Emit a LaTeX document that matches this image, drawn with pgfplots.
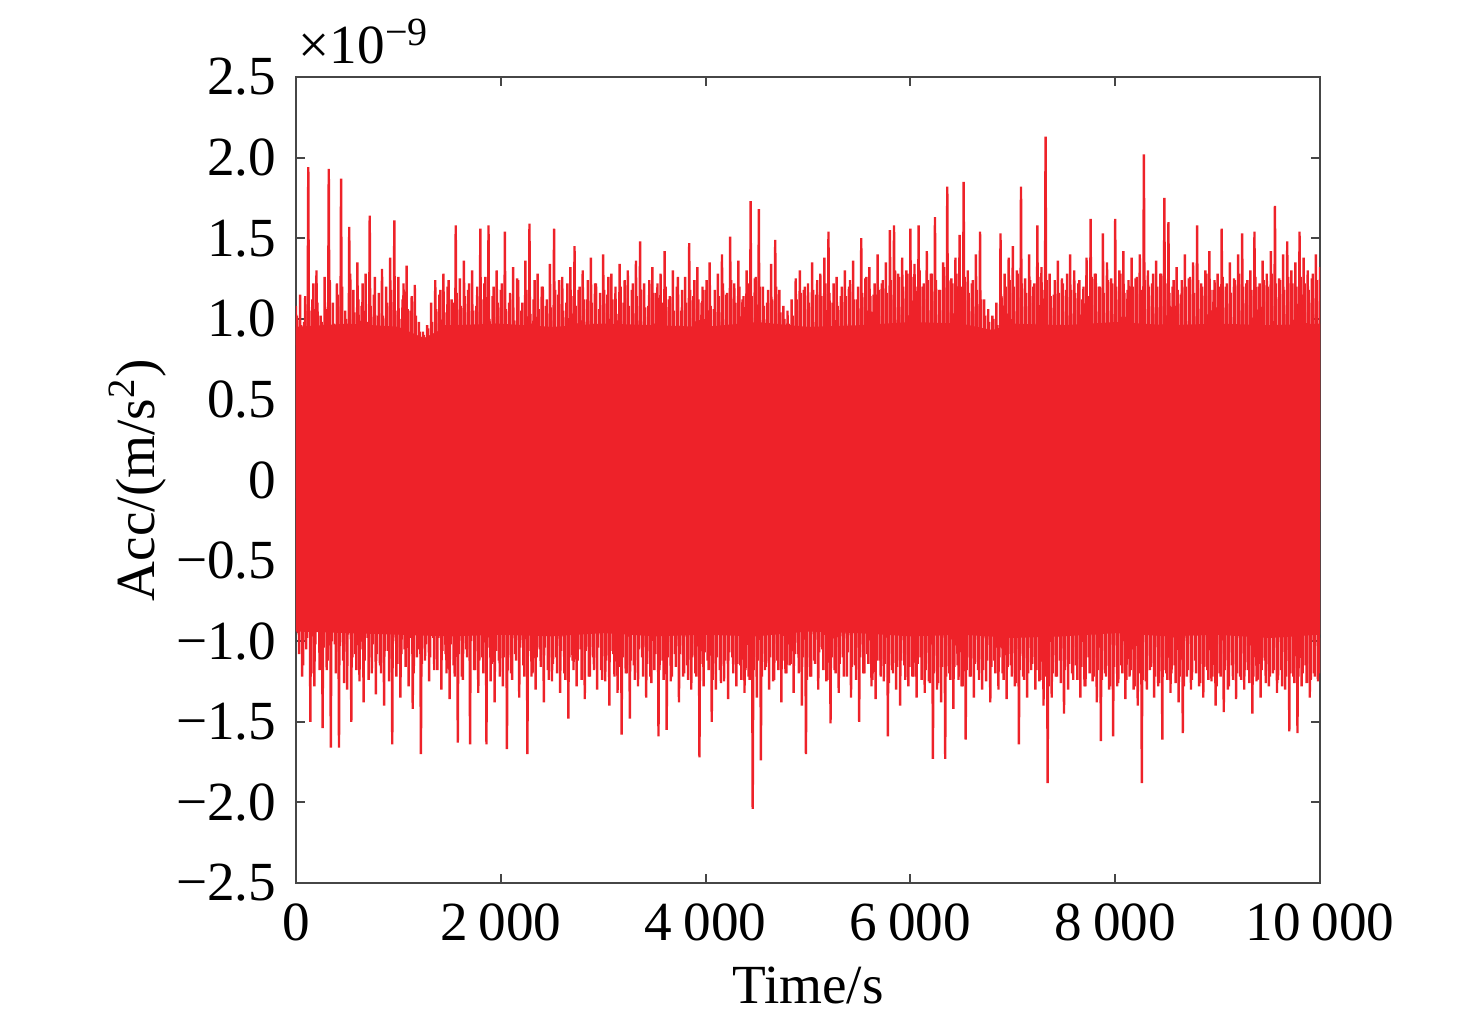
\documentclass[border=0pt]{standalone}
\usepackage{pgfplots}
\pgfplotsset{compat=1.18}
\usepackage{fontspec}
\setmainfont{Liberation Serif}
\definecolor{accred}{RGB}{238,34,41}
\definecolor{axisgray}{RGB}{70,70,70}
\begin{document}
\begin{tikzpicture}
\begin{axis}[
  name=ax,
  scale only axis,
  width=256pt, height=201.5pt,
  xmin=0, xmax=10000, ymin=-2.5, ymax=2.5,
  xtick={0,2000,4000,6000,8000,10000},
  xticklabels={0,2\hspace{0.2em}000,4\hspace{0.2em}000,6\hspace{0.2em}000,8\hspace{0.2em}000,10\hspace{0.2em}000},
  ytick={-2.5,-2,-1.5,-1,-0.5,0,0.5,1,1.5,2,2.5},
  yticklabels={−2.5,−2.0,−1.5,−1.0,−0.5,0,0.5,1.0,1.5,2.0,2.5},
  scaled ticks=false,
  tick align=inside, tick pos=both,
  major tick length=2.3pt,
  axis line style={draw=axisgray, line width=0.5pt},
  tick style={draw=axisgray, line width=0.5pt},
  font=\fontsize{13.8}{16}\selectfont,
  xticklabel style={yshift=-1.6pt},
  yticklabel style={xshift=-1.4pt},
  xlabel={Time/s},
  ylabel={Acc/(m/s\textsuperscript{2})},
  every axis x label/.style={at={(axis description cs:0.5,-0.1489)}, anchor=base},
  every axis y label/.style={at={(axis description cs:-0.1377,0.5)}, rotate=90, anchor=base},
]
% dense core of the signal
\addplot[draw=none, fill=accred] coordinates {
(0,0.95) (500,0.97) (1000,0.95) (1250,0.88) (1500,0.96) (2000,0.97) (2500,0.95) (3000,0.97) (3500,0.96) (4000,0.95) (4500,0.98) (5000,0.95) (5500,0.96) (6000,0.98) (6500,0.97) (6800,0.93) (7000,0.97) (7500,0.96) (8000,0.98) (8500,0.96) (9000,0.97) (9500,0.96) (10000,0.97)
(10000,-0.96) (9500,-0.98) (9000,-0.96) (8500,-0.97) (8000,-0.95) (7500,-0.97) (7000,-0.98) (6500,-0.96) (6000,-0.97) (5500,-0.95) (5000,-0.94) (4500,-0.97) (4000,-0.96) (3500,-0.97) (3000,-0.95) (2500,-0.97) (2000,-0.96) (1500,-0.97) (1000,-0.96) (500,-0.95) (0,-0.94)
} -- cycle;
% sampled signal, even samples
\addplot[accred, line width=0.6pt, line join=bevel, no markers] coordinates {
(0,1.08) (20,-0.95) (40,1.15) (60,-1.22) (80,0.98) (100,-1.05) (120,1.94) (140,-1.50) (160,1.12) (180,-1.28)
(200,1.30) (220,-0.92) (240,1.02) (260,-1.54) (280,1.26) (300,-1.18) (320,1.93) (340,-1.66) (360,1.10) (380,-1.02)
(400,1.22) (420,-1.66) (440,1.87) (460,-1.12) (480,1.05) (500,-1.30) (520,1.57) (540,-1.50) (560,1.18) (580,-1.08)
(600,1.35) (620,-1.25) (640,1.08) (660,-1.38) (680,1.28) (700,-0.98) (720,1.64) (740,-1.20) (760,1.15) (780,-1.33)
(800,1.02) (820,-1.15) (840,1.31) (860,-1.40) (880,1.20) (900,-1.06) (920,1.38) (940,-1.64) (960,1.61) (980,-1.22)
(1000,1.26) (1020,-1.35) (1040,1.12) (1060,-1.05) (1080,1.33) (1100,-1.28) (1120,1.05) (1140,-1.42) (1160,1.21) (1180,-1.10)
(1200,0.98) (1220,-1.70) (1240,0.92) (1260,-1.12) (1280,0.96) (1300,-1.25) (1320,1.10) (1340,-0.98) (1360,1.24) (1380,-1.18)
(1400,1.15) (1420,-1.30) (1440,1.28) (1460,-1.08) (1480,1.20) (1500,-1.36) (1520,1.12) (1540,-1.15) (1560,1.58) (1580,-1.63)
(1600,1.25) (1620,-1.22) (1640,1.36) (1660,-1.05) (1680,1.18) (1700,-1.64) (1720,1.30) (1740,-1.18) (1760,1.08) (1780,-1.32)
(1800,1.56) (1820,-1.10) (1840,1.22) (1860,-1.64) (1880,1.58) (1900,-1.25) (1920,1.14) (1940,-1.38) (1960,1.30) (1980,-1.12)
(2000,1.18) (2020,-1.28) (2040,1.54) (2060,-1.67) (2080,1.10) (2100,-1.20) (2120,1.32) (2140,-1.08) (2160,1.25) (2180,-1.35)
(2200,1.05) (2220,-1.15) (2240,1.36) (2260,-1.70) (2280,1.59) (2300,-1.22) (2320,1.12) (2340,-1.30) (2360,1.28) (2380,-1.05)
(2400,1.20) (2420,-1.38) (2440,1.08) (2460,-1.18) (2480,1.34) (2500,-1.25) (2520,1.56) (2540,-1.10) (2560,1.15) (2580,-1.32)
(2600,1.26) (2620,-1.20) (2640,1.10) (2660,-1.48) (2680,1.32) (2700,-1.12) (2720,1.45) (2740,-1.28) (2760,1.18) (2780,-1.05)
(2800,1.30) (2820,-1.36) (2840,1.12) (2860,-1.22) (2880,1.38) (2900,-1.10) (2920,1.22) (2940,-1.30) (2960,1.06) (2980,-1.18)
(3000,1.40) (3020,-1.25) (3040,1.15) (3060,-1.40) (3080,1.28) (3100,-1.08) (3120,1.20) (3140,-1.32) (3160,1.34) (3180,-1.58)
(3200,1.10) (3220,-1.20) (3240,1.30) (3260,-1.48) (3280,1.18) (3300,-1.15) (3320,1.36) (3340,-1.28) (3360,1.48) (3380,-1.10)
(3400,1.22) (3420,-1.35) (3440,1.08) (3460,-1.22) (3480,1.32) (3500,-1.18) (3520,1.16) (3540,-1.59) (3560,1.28) (3580,-1.12)
(3600,1.42) (3620,-1.55) (3640,1.12) (3660,-1.25) (3680,1.30) (3700,-1.08) (3720,1.20) (3740,-1.38) (3760,1.05) (3780,-1.22)
(3800,1.26) (3820,-1.15) (3840,1.47) (3860,-1.30) (3880,1.14) (3900,-1.20) (3920,1.32) (3940,-1.72) (3960,1.10) (3980,-1.28)
(4000,1.18) (4020,-1.12) (4040,1.35) (4060,-1.50) (4080,1.06) (4100,-1.30) (4120,1.28) (4140,-1.18) (4160,1.40) (4180,-1.25)
(4200,1.15) (4220,-1.36) (4240,1.51) (4260,-1.10) (4280,1.22) (4300,-1.28) (4320,1.36) (4340,-1.15) (4360,1.12) (4380,-1.32)
(4400,1.30) (4420,-1.22) (4440,1.73) (4460,-2.04) (4480,1.25) (4500,-1.35) (4520,1.68) (4540,-1.74) (4560,1.20) (4580,-1.18)
(4600,1.10) (4620,-1.30) (4640,1.34) (4660,-1.25) (4680,1.49) (4700,-1.12) (4720,1.18) (4740,-1.38) (4760,1.08) (4780,-1.20)
(4800,1.05) (4820,-1.15) (4840,1.12) (4860,-1.32) (4880,1.25) (4900,-1.08) (4920,1.30) (4940,-1.40) (4960,1.18) (4980,-1.70)
(5000,1.22) (5020,-1.22) (5040,1.35) (5060,-1.12) (5080,1.15) (5100,-1.30) (5120,1.28) (5140,-1.05) (5160,1.38) (5180,-1.25)
(5200,1.54) (5220,-1.51) (5240,1.10) (5260,-1.18) (5280,1.26) (5300,-1.32) (5320,1.14) (5340,-1.10) (5360,1.30) (5380,-1.22)
(5400,1.20) (5420,-1.35) (5440,1.36) (5460,-1.15) (5480,1.12) (5500,-1.50) (5520,1.50) (5540,-1.20) (5560,1.25) (5580,-1.08)
(5600,1.32) (5620,-1.28) (5640,1.15) (5660,-1.36) (5680,1.40) (5700,-1.12) (5720,1.22) (5740,-1.25) (5760,1.35) (5780,-1.59)
(5800,1.55) (5820,-1.18) (5840,1.58) (5860,-1.30) (5880,1.28) (5900,-1.40) (5920,1.38) (5940,-1.15) (5960,1.30) (5980,-1.28)
(6000,1.56) (6020,-1.22) (6040,1.34) (6060,-1.35) (6080,1.58) (6100,-1.10) (6120,1.20) (6140,-1.32) (6160,1.42) (6180,-1.25)
(6200,1.28) (6220,-1.73) (6240,1.63) (6260,-1.30) (6280,1.18) (6300,-1.38) (6320,1.35) (6340,-1.73) (6360,1.82) (6380,-1.20)
(6400,1.25) (6420,-1.42) (6440,1.38) (6460,-1.15) (6480,1.52) (6500,-1.28) (6520,1.85) (6540,-1.61) (6560,1.30) (6580,-1.22)
(6600,1.22) (6620,-1.35) (6640,1.40) (6660,-1.18) (6680,1.54) (6700,-1.30) (6720,1.12) (6740,-1.25) (6760,1.06) (6780,-1.38)
(6800,1.02) (6820,-1.12) (6840,1.10) (6860,-1.30) (6880,1.53) (6900,-1.20) (6920,1.28) (6940,-1.36) (6960,1.38) (6980,-1.15)
(7000,1.45) (7020,-1.28) (7040,1.30) (7060,-1.64) (7080,1.82) (7100,-1.22) (7120,1.25) (7140,-1.35) (7160,1.40) (7180,-1.18)
(7200,1.20) (7220,-1.30) (7240,1.58) (7260,-1.25) (7280,1.32) (7300,-1.40) (7320,2.13) (7340,-1.88) (7360,1.28) (7380,-1.35)
(7400,1.15) (7420,-1.22) (7440,1.36) (7460,-1.12) (7480,1.25) (7500,-1.45) (7520,1.18) (7540,-1.30) (7560,1.40) (7580,-1.20)
(7600,1.30) (7620,-1.15) (7640,1.22) (7660,-1.35) (7680,1.12) (7700,-1.28) (7720,1.38) (7740,-1.10) (7760,1.62) (7780,-1.25)
(7800,1.28) (7820,-1.38) (7840,1.20) (7860,-1.62) (7880,1.53) (7900,-1.20) (7920,1.35) (7940,-1.30) (7960,1.25) (7980,-1.59)
(8000,1.62) (8020,-1.28) (8040,1.30) (8060,-1.15) (8080,1.42) (8100,-1.36) (8120,1.18) (8140,-1.22) (8160,1.38) (8180,-1.30)
(8200,1.25) (8220,-1.40) (8240,1.40) (8260,-1.88) (8280,2.02) (8300,-1.25) (8320,1.30) (8340,-1.18) (8360,1.22) (8380,-1.35)
(8400,1.36) (8420,-1.28) (8440,1.28) (8460,-1.61) (8480,1.75) (8500,-1.20) (8520,1.60) (8540,-1.32) (8560,1.20) (8580,-1.15)
(8600,1.32) (8620,-1.38) (8640,1.15) (8660,-1.57) (8680,1.40) (8700,-1.22) (8720,1.25) (8740,-1.30) (8760,1.35) (8780,-1.12)
(8800,1.58) (8820,-1.28) (8840,1.22) (8860,-1.35) (8880,1.30) (8900,-1.18) (8920,1.42) (8940,-1.25) (8960,1.18) (8980,-1.40)
(9000,1.28) (9020,-1.20) (9040,1.56) (9060,-1.44) (9080,1.20) (9100,-1.30) (9120,1.35) (9140,-1.15) (9160,1.25) (9180,-1.36)
(9200,1.40) (9220,-1.22) (9240,1.53) (9260,-1.30) (9280,1.22) (9300,-1.18) (9320,1.30) (9340,-1.45) (9360,1.54) (9380,-1.25)
(9400,1.20) (9420,-1.35) (9440,1.36) (9460,-1.12) (9480,1.28) (9500,-1.28) (9520,1.42) (9540,-1.20) (9560,1.70) (9580,-1.32)
(9600,1.25) (9620,-1.18) (9640,1.40) (9660,-1.30) (9680,1.48) (9700,-1.56) (9720,1.30) (9740,-1.22) (9760,1.35) (9780,-1.57)
(9800,1.54) (9820,-1.28) (9840,1.38) (9860,-1.15) (9880,1.30) (9900,-1.35) (9920,1.25) (9940,-1.20) (9960,1.40) (9980,-1.25)
(10000,1.32)
};
% sampled signal, odd samples
\addplot[accred, line width=0.6pt, line join=bevel, no markers] coordinates {
(10,1.02) (30,-1.08) (50,0.96) (70,-1.15) (90,1.14) (110,-0.98) (130,1.05) (150,-1.20) (170,1.22) (190,-1.02)
(210,1.10) (230,-1.18) (250,0.98) (270,-1.04) (290,1.06) (310,-1.12) (330,1.24) (350,-1.00) (370,0.97) (390,-1.20)
(410,1.15) (430,-1.03) (450,1.20) (470,-1.26) (490,1.00) (510,-0.96) (530,1.28) (550,-1.10) (570,1.04) (590,-1.18)
(610,1.12) (630,-1.05) (650,1.22) (670,-1.12) (690,0.98) (710,-1.24) (730,1.08) (750,-1.02) (770,1.26) (790,-1.08)
(810,1.16) (830,-1.20) (850,1.02) (870,-1.06) (890,1.10) (910,-1.25) (930,1.18) (950,-1.00) (970,1.05) (990,-1.14)
(1010,1.00) (1030,-1.08) (1050,1.22) (1070,-1.16) (1090,1.06) (1110,-0.98) (1130,1.14) (1150,-1.20) (1170,1.02) (1190,-1.05)
(1210,0.92) (1230,-1.14) (1250,0.90) (1270,-1.02) (1290,0.94) (1310,-1.10) (1330,0.98) (1350,-1.18) (1370,1.06) (1390,-0.98)
(1410,1.18) (1430,-1.06) (1450,1.04) (1470,-1.20) (1490,1.24) (1510,-1.02) (1530,1.10) (1550,-1.22) (1570,1.16) (1590,-1.08)
(1610,1.08) (1630,-1.24) (1650,1.14) (1670,-1.10) (1690,1.22) (1710,-1.00) (1730,1.05) (1750,-1.18) (1770,1.20) (1790,-1.12)
(1810,1.12) (1830,-1.20) (1850,1.26) (1870,-1.04) (1890,1.00) (1910,-1.14) (1930,1.20) (1950,-1.06) (1970,1.10) (1990,-1.22)
(2010,1.22) (2030,-1.10) (2050,1.06) (2070,-1.18) (2090,1.16) (2110,-1.24) (2130,0.99) (2150,-1.12) (2170,1.24) (2190,-1.04)
(2210,1.10) (2230,-1.22) (2250,1.18) (2270,-1.06) (2290,1.03) (2310,-1.20) (2330,1.24) (2350,-1.10) (2370,1.06) (2390,-1.16)
(2410,1.20) (2430,-1.04) (2450,1.12) (2470,-1.24) (2490,1.07) (2510,-1.14) (2530,1.18) (2550,-1.20) (2570,1.24) (2590,-1.06)
(2610,1.05) (2630,-1.24) (2650,1.22) (2670,-1.10) (2690,1.14) (2710,-1.18) (2730,1.08) (2750,-1.12) (2770,1.20) (2790,-1.24)
(2810,1.12) (2830,-1.06) (2850,1.24) (2870,-1.22) (2890,1.10) (2910,-1.18) (2930,1.22) (2950,-1.04) (2970,1.16) (2990,-1.24)
(3010,1.18) (3030,-1.12) (3050,1.26) (3070,-1.06) (3090,1.12) (3110,-1.22) (3130,1.03) (3150,-1.16) (3170,1.20) (3190,-1.10)
(3210,1.24) (3230,-1.20) (3250,1.08) (3270,-1.12) (3290,1.22) (3310,-1.24) (3330,1.14) (3350,-1.05) (3370,1.18) (3390,-1.22)
(3410,1.07) (3430,-1.14) (3450,1.24) (3470,-1.26) (3490,1.16) (3510,-1.08) (3530,1.22) (3550,-1.18) (3570,1.10) (3590,-1.24)
(3610,1.20) (3630,-1.10) (3650,1.14) (3670,-1.22) (3690,1.05) (3710,-1.16) (3730,1.26) (3750,-1.08) (3770,1.18) (3790,-1.20)
(3810,1.10) (3830,-1.24) (3850,1.18) (3870,-1.10) (3890,1.24) (3910,-1.22) (3930,1.12) (3950,-1.14) (3970,1.20) (3990,-1.07)
(4010,1.24) (4030,-1.18) (4050,1.08) (4070,-1.24) (4090,1.18) (4110,-1.10) (4130,1.14) (4150,-1.26) (4170,1.22) (4190,-1.12)
(4210,1.16) (4230,-1.07) (4250,1.24) (4270,-1.20) (4290,1.10) (4310,-1.14) (4330,1.20) (4350,-1.24) (4370,1.14) (4390,-1.18)
(4410,1.22) (4430,-1.24) (4450,1.14) (4470,-1.18) (4490,1.26) (4510,-1.12) (4530,1.20) (4550,-1.22) (4570,1.08) (4590,-1.16)
(4610,1.18) (4630,-1.10) (4650,1.12) (4670,-1.24) (4690,1.20) (4710,-1.18) (4730,1.04) (4750,-1.12) (4770,1.00) (4790,-1.20)
(4810,0.97) (4830,-1.14) (4850,1.02) (4870,-1.08) (4890,1.12) (4910,-1.20) (4930,1.16) (4950,-1.10) (4970,1.20) (4990,-1.24)
(5010,1.10) (5030,-1.22) (5050,1.18) (5070,-1.14) (5090,1.24) (5110,-1.07) (5130,1.14) (5150,-1.18) (5170,1.22) (5190,-1.24)
(5210,1.16) (5230,-1.10) (5250,1.22) (5270,-1.20) (5290,1.08) (5310,-1.14) (5330,1.20) (5350,-1.22) (5370,1.14) (5390,-1.07)
(5410,1.24) (5430,-1.16) (5450,1.12) (5470,-1.24) (5490,1.20) (5510,-1.10) (5530,1.16) (5550,-1.20) (5570,1.26) (5590,-1.14)
(5610,1.14) (5630,-1.24) (5650,1.22) (5670,-1.12) (5690,1.18) (5710,-1.22) (5730,1.24) (5750,-1.14) (5770,1.16) (5790,-1.26)
(5810,1.24) (5830,-1.20) (5850,1.30) (5870,-1.16) (5890,1.26) (5910,-1.12) (5930,1.20) (5950,-1.24) (5970,1.28) (5990,-1.16)
(6010,1.26) (6030,-1.22) (6050,1.20) (6070,-1.14) (6090,1.30) (6110,-1.24) (6130,1.22) (6150,-1.18) (6170,1.24) (6190,-1.26)
(6210,1.28) (6230,-1.20) (6250,1.24) (6270,-1.26) (6290,1.18) (6310,-1.16) (6330,1.32) (6350,-1.22) (6370,1.24) (6390,-1.24)
(6410,1.22) (6430,-1.16) (6450,1.28) (6470,-1.24) (6490,1.20) (6510,-1.28) (6530,1.26) (6550,-1.18) (6570,1.16) (6590,-1.22)
(6610,1.24) (6630,-1.14) (6650,1.18) (6670,-1.24) (6690,1.12) (6710,-1.18) (6730,1.02) (6750,-1.12) (6770,0.98) (6790,-1.16)
(6810,1.00) (6830,-1.20) (6850,0.96) (6870,-1.10) (6890,1.14) (6910,-1.24) (6930,1.20) (6950,-1.16) (6970,1.24) (6990,-1.22)
(7010,1.20) (7030,-1.26) (7050,1.28) (7070,-1.18) (7090,1.22) (7110,-1.24) (7130,1.16) (7150,-1.20) (7170,1.24) (7190,-1.14)
(7210,1.22) (7230,-1.18) (7250,1.26) (7270,-1.24) (7290,1.18) (7310,-1.22) (7330,1.24) (7350,-1.28) (7370,1.14) (7390,-1.20)
(7410,1.24) (7430,-1.22) (7450,1.16) (7470,-1.26) (7490,1.22) (7510,-1.18) (7530,1.28) (7550,-1.14) (7570,1.18) (7590,-1.24)
(7610,1.16) (7630,-1.24) (7650,1.24) (7670,-1.16) (7690,1.20) (7710,-1.28) (7730,1.14) (7750,-1.20) (7770,1.26) (7790,-1.22)
(7810,1.28) (7830,-1.18) (7850,1.20) (7870,-1.24) (7890,1.16) (7910,-1.22) (7930,1.24) (7950,-1.28) (7970,1.22) (7990,-1.16)
(8010,1.20) (8030,-1.26) (8050,1.28) (8070,-1.20) (8090,1.16) (8110,-1.24) (8130,1.24) (8150,-1.18) (8170,1.20) (8190,-1.28)
(8210,1.26) (8230,-1.20) (8250,1.18) (8270,-1.24) (8290,1.24) (8310,-1.30) (8330,1.20) (8350,-1.16) (8370,1.28) (8390,-1.22)
(8410,1.20) (8430,-1.26) (8450,1.28) (8470,-1.18) (8490,1.22) (8510,-1.24) (8530,1.16) (8550,-1.20) (8570,1.24) (8590,-1.26)
(8610,1.18) (8630,-1.22) (8650,1.24) (8670,-1.28) (8690,1.20) (8710,-1.18) (8730,1.26) (8750,-1.24) (8770,1.16) (8790,-1.20)
(8810,1.24) (8830,-1.26) (8850,1.20) (8870,-1.16) (8890,1.28) (8910,-1.24) (8930,1.18) (8950,-1.22) (8970,1.24) (8990,-1.28)
(9010,1.20) (9030,-1.22) (9050,1.26) (9070,-1.18) (9090,1.22) (9110,-1.28) (9130,1.16) (9150,-1.24) (9170,1.24) (9190,-1.20)
(9210,1.28) (9230,-1.24) (9250,1.20) (9270,-1.18) (9290,1.24) (9310,-1.26) (9330,1.18) (9350,-1.22) (9370,1.26) (9390,-1.24)
(9410,1.22) (9430,-1.18) (9450,1.24) (9470,-1.26) (9490,1.20) (9510,-1.22) (9530,1.28) (9550,-1.18) (9570,1.22) (9590,-1.24)
(9610,1.24) (9630,-1.28) (9650,1.18) (9670,-1.22) (9690,1.26) (9710,-1.20) (9730,1.22) (9750,-1.26) (9770,1.20) (9790,-1.22)
(9810,1.26) (9830,-1.20) (9850,1.22) (9870,-1.26) (9890,1.18) (9910,-1.24) (9930,1.28) (9950,-1.22) (9970,1.24) (9990,-1.20)
};
\end{axis}
\node[anchor=base west, inner sep=0pt, font=\fontsize{13.8}{16}\selectfont] at ([xshift=0.5pt,yshift=3.3pt]ax.north west) {×10\raisebox{0.33em}{\fontsize{10}{12}\selectfont −9}};
\path (ax.south west) ++(-74pt,-35.5pt) rectangle ([shift={(39pt,19.25pt)}]ax.north east);
\end{tikzpicture}
\end{document}
